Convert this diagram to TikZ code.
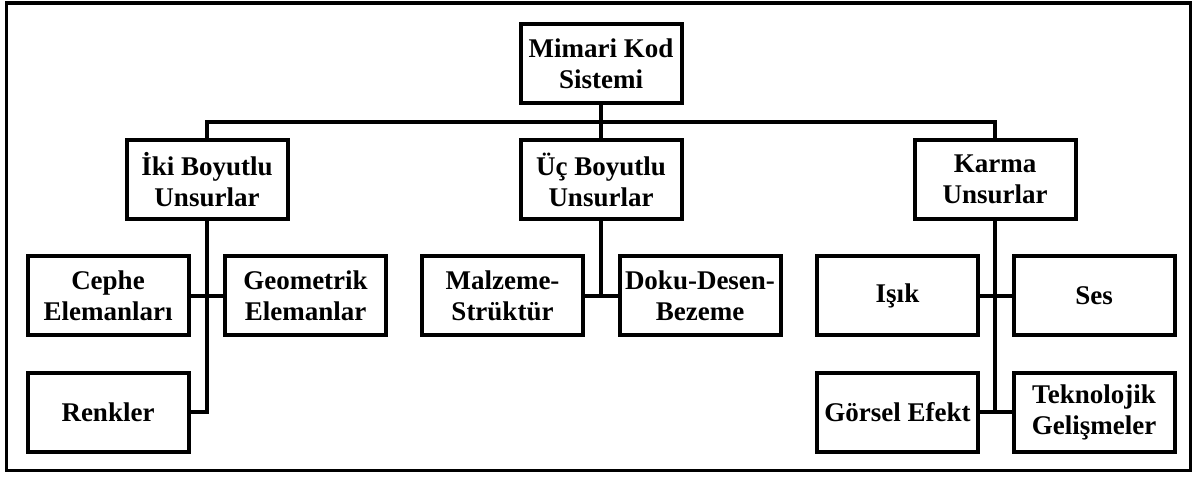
\documentclass[tikz,border=0pt]{standalone}
\usepackage{fontspec}
\setmainfont{Liberation Serif}
\begin{document}
\begin{tikzpicture}[x=1pt,y=-1pt,
  box/.style={draw, line width=4pt, minimum width=161pt, minimum height=79pt, inner sep=2pt,
    align=center, font=\fontsize{27}{31}\selectfont\bfseries},
  conn/.style={line width=4pt}]
\useasboundingbox (0,0) rectangle (1197,477);
\draw[line width=3.5pt] (6.5,3) rectangle (1190.5,470.5);
\node[box] (root) at (601,63.5) {Mimari Kod\\Sistemi};
\node[box] (iki) at (207,179.5) {İki Boyutlu\\Unsurlar};
\node[box] (uc) at (601,179.5) {Üç Boyutlu\\Unsurlar};
\node[box] (karma) at (995,179.5) {Karma\\Unsurlar};
\node[box] (cephe) at (108,295.5) {Cephe\\Elemanları};
\node[box] (geo) at (305.5,295.5) {Geometrik\\Elemanlar};
\node[box] (renk) at (108,412) {Renkler};
\node[box] (malz) at (502.5,295.5) {Malzeme-\\Strüktür};
\node[box] (doku) at (700,295.5) {Doku-Desen-\\Bezeme};
\node[box] (isik) at (897.5,295.5) {Işık};
\node[box] (ses) at (1094,295.5) {Ses};
\node[box] (gorsel) at (897.5,412) {Görsel Efekt};
\node[box] (tekno) at (1094,412) {Teknolojik\\Gelişmeler};
\coordinate (bus) at (601,122);
\draw[conn] (root.south) -- (uc.north);
\draw[conn] (iki.north) -- (iki.north |- bus) -- (karma.north |- bus) -- (karma.north);
\draw[conn] (iki.south) -- (iki.south |- renk.east) -- (renk.east);
\draw[conn] (cephe.east) -- (geo.west);
\draw[conn] (uc.south) -- (uc.south |- malz.east);
\draw[conn] (malz.east) -- (doku.west);
\draw[conn] (karma.south) -- (karma.south |- gorsel.east);
\draw[conn] (isik.east) -- (ses.west);
\draw[conn] (gorsel.east) -- (tekno.west);
\end{tikzpicture}
\end{document}
